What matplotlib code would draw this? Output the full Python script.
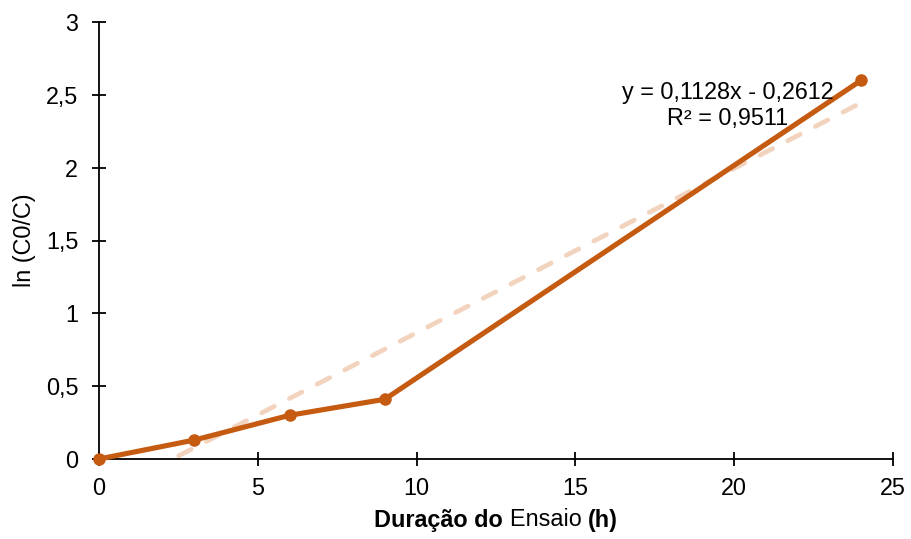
import matplotlib
matplotlib.use("Agg")
import matplotlib.pyplot as plt
import numpy as np

plt.rcParams['font.family'] = ['Liberation Sans', 'DejaVu Sans']

hours = [0, 3, 6, 9, 24]
ln_ratio = [0.0, 0.13, 0.30, 0.41, 2.60]
slope = 0.1128
intercept = -0.2612
r2 = 0.9511
x_ticks = [0, 5, 10, 15, 20, 25]
y_ticks = [0, 0.5, 1, 1.5, 2, 2.5, 3]
y_tick_labels = ['0', '0,5', '1', '1,5', '2', '2,5', '3']

FS = 16.8
W, H = 911, 539
fig = plt.figure(figsize=(W/100, H/100), dpi=100)
ax = fig.add_axes([99/W, 1-459/H, (893-99)/W, (459-22)/H])

tx = np.array([hours[0], hours[-1]], dtype=float)
ax.plot(tx, slope*tx + intercept, color='#F2D3BE', lw=3.4, ls=(0.8, (3.0, 3.6)),
        dash_capstyle='round', zorder=2)
ax.plot(hours, ln_ratio, color='#C55A11', lw=3.7, marker='o', markersize=8,
        zorder=3, clip_on=False)

ax.set_xlim(0, 25)
ax.set_ylim(0, 3)
ax.set_xticks(x_ticks)
ax.set_xticklabels([str(v) for v in x_ticks])
ax.set_yticks(y_ticks)
ax.set_yticklabels(y_tick_labels)
for s in ['top', 'right']:
    ax.spines[s].set_visible(False)
for s in ['left', 'bottom']:
    ax.spines[s].set_linewidth(1.3)
    ax.spines[s].set_color('black')
ax.tick_params(axis='both', direction='inout', length=10, width=1.3,
               labelsize=FS, colors='black')
ax.tick_params(axis='x', pad=8)
ax.tick_params(axis='y', pad=10)

fig.text(24/W, 1-240/H, 'ln (C0/C)', fontsize=FS, rotation=90, ha='center', va='center')

def fmt(v):
    return f'{v:.4f}'.replace('.', ',')

eq = f'y = {fmt(slope)}x - {fmt(-intercept)}\nR² = {fmt(r2)}'
ax.text(19.79, 2.425, eq, ha='center', va='center', fontsize=FS, linespacing=1.15)

# mixed-weight x label
parts = [('Duração do ', 'bold'), ('Ensaio ', 'normal'), ('(h)', 'bold')]
fig.canvas.draw()
renderer = fig.canvas.get_renderer()
widths = []
tmp = []
for s, w in parts:
    t = fig.text(0, 0, s, fontsize=FS, fontweight=w)
    widths.append(t.get_window_extent(renderer).width)
    tmp.append(t)
for t in tmp:
    t.remove()
total = sum(widths)
x0 = (99 + 893) / 2 - total / 2
ypx = H - 520
for (s, w), wd in zip(parts, widths):
    fig.text(x0/W, ypx/H, s, fontsize=FS, fontweight=w, ha='left', va='center')
    x0 += wd

fig.savefig('out.png', dpi=100)
